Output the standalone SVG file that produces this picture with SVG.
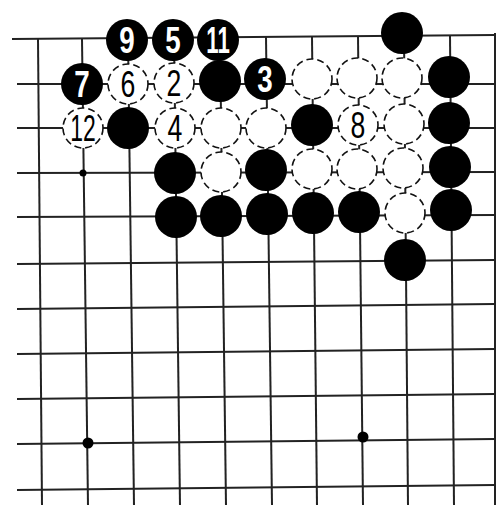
<svg xmlns="http://www.w3.org/2000/svg" width="500" height="505" viewBox="0 0 500 505">
<style>
.grid line{stroke:#222;stroke-width:2}
.edge{stroke:#111;stroke-width:3}
.b{fill:#000}
.w{fill:#fff;stroke:#111;stroke-width:1.6;stroke-dasharray:7 4}
.bt{fill:#fff;font-family:"Liberation Sans",Arial,sans-serif;font-weight:bold;font-size:37px;text-anchor:middle}
.wt{fill:#000;font-family:"Liberation Sans",Arial,sans-serif;font-size:37px;text-anchor:middle}
.hoshi{fill:#000}
</style>
<rect width="500" height="505" fill="#fff"/>
<g id="grid" class="grid">
<line class="edge" x1="12" y1="39" x2="495" y2="35"/>
<line class="edge" x1="495" y1="33" x2="495" y2="505"/>
<line x1="17" y1="84" x2="495" y2="84"/>
<line x1="17" y1="128" x2="495" y2="128"/>
<line x1="17" y1="173" x2="495" y2="172"/>
<line x1="17" y1="217" x2="495" y2="215"/>
<line x1="17" y1="264" x2="495" y2="260"/>
<line x1="17" y1="309" x2="495" y2="304"/>
<line x1="17" y1="354" x2="495" y2="349"/>
<line x1="17" y1="399" x2="495" y2="394"/>
<line x1="17" y1="444" x2="495" y2="439"/>
<line x1="17" y1="490" x2="495" y2="485"/>
<line x1="38" y1="39" x2="42" y2="505"/>
<line x1="82" y1="39" x2="88" y2="505"/>
<line x1="128" y1="38" x2="134" y2="505"/>
<line x1="174" y1="38" x2="180" y2="505"/>
<line x1="220" y1="38" x2="226" y2="505"/>
<line x1="266" y1="37" x2="272" y2="505"/>
<line x1="312" y1="37" x2="317" y2="505"/>
<line x1="358" y1="36" x2="363" y2="505"/>
<line x1="404" y1="36" x2="408" y2="505"/>
<line x1="450" y1="35" x2="454" y2="505"/>
</g>
<g id="hoshi">
<circle class="hoshi" cx="83" cy="173" r="3.5"/>
<circle class="hoshi" cx="88" cy="443" r="5.5"/>
<circle class="hoshi" cx="363" cy="437" r="5.5"/>
</g>
<g id="white-stones">
<g id="w6"><circle class="w" cx="128" cy="84" r="20"/><text class="wt" x="128" y="97" transform="translate(128 0) scale(0.72 1) translate(-128 0)">6</text></g>
<g id="w2"><circle class="w" cx="174" cy="83" r="20"/><text class="wt" x="174" y="96" transform="translate(174 0) scale(0.72 1) translate(-174 0)">2</text></g>
<g id="w-r1c6"><circle class="w" cx="312" cy="79" r="20"/></g>
<g id="w-r1c7"><circle class="w" cx="357" cy="78" r="20"/></g>
<g id="w-r1c8"><circle class="w" cx="402" cy="78" r="20"/></g>
<g id="w12"><circle class="w" cx="83" cy="128" r="20"/><text class="wt" x="83" y="141" transform="translate(83 0) scale(0.62 1) translate(-83 0)">12</text></g>
<g id="w4"><circle class="w" cx="175" cy="128" r="20"/><text class="wt" x="175" y="141" transform="translate(175 0) scale(0.72 1) translate(-175 0)">4</text></g>
<g id="w-r2c4"><circle class="w" cx="221" cy="128" r="20"/></g>
<g id="w-r2c5"><circle class="w" cx="266" cy="128" r="20"/></g>
<g id="w8"><circle class="w" cx="358" cy="125" r="20"/><text class="wt" x="358" y="138" transform="translate(358 0) scale(0.72 1) translate(-358 0)">8</text></g>
<g id="w-r2c8"><circle class="w" cx="404" cy="124" r="20"/></g>
<g id="w-r3c4"><circle class="w" cx="221" cy="172" r="20"/></g>
<g id="w-r3c6"><circle class="w" cx="312" cy="169" r="20"/></g>
<g id="w-r3c7"><circle class="w" cx="357" cy="169" r="20"/></g>
<g id="w-r3c8"><circle class="w" cx="403" cy="168" r="20"/></g>
<g id="w-r4c8"><circle class="w" cx="405" cy="213" r="20"/></g>
</g>
<g id="black-stones">
<g id="b9"><circle class="b" cx="127" cy="40" r="21"/><text class="bt" x="127" y="53" transform="translate(127 0) scale(0.75 1) translate(-127 0)">9</text></g>
<g id="b5"><circle class="b" cx="173" cy="40" r="21"/><text class="bt" x="173" y="53" transform="translate(173 0) scale(0.75 1) translate(-173 0)">5</text></g>
<g id="b11"><circle class="b" cx="218" cy="40" r="21"/><text class="bt" x="218" y="53" transform="translate(218 0) scale(0.6 1) translate(-218 0)">11</text></g>
<g id="b-r0c8"><circle class="b" cx="402" cy="33" r="21"/></g>
<g id="b7"><circle class="b" cx="82" cy="84" r="21"/><text class="bt" x="82" y="97" transform="translate(82 0) scale(0.75 1) translate(-82 0)">7</text></g>
<g id="b-r1c4"><circle class="b" cx="220" cy="81" r="21"/></g>
<g id="b3"><circle class="b" cx="265" cy="79" r="21"/><text class="bt" x="265" y="92" transform="translate(265 0) scale(0.75 1) translate(-265 0)">3</text></g>
<g id="b-r1c9"><circle class="b" cx="449" cy="77" r="21"/></g>
<g id="b-r2c2"><circle class="b" cx="128" cy="128" r="21"/></g>
<g id="b-r2c6"><circle class="b" cx="312" cy="125" r="21"/></g>
<g id="b-r2c9"><circle class="b" cx="449" cy="123" r="21"/></g>
<g id="b-r3c3"><circle class="b" cx="175" cy="173" r="21"/></g>
<g id="b-r3c5"><circle class="b" cx="266" cy="170" r="21"/></g>
<g id="b-r3c9"><circle class="b" cx="450" cy="167" r="21"/></g>
<g id="b-r4c3"><circle class="b" cx="176" cy="217" r="21"/></g>
<g id="b-r4c4"><circle class="b" cx="221" cy="216" r="21"/></g>
<g id="b-r4c5"><circle class="b" cx="267" cy="214" r="21"/></g>
<g id="b-r4c6"><circle class="b" cx="313" cy="213" r="21"/></g>
<g id="b-r4c7"><circle class="b" cx="359" cy="212" r="21"/></g>
<g id="b-r4c9"><circle class="b" cx="451" cy="210" r="21"/></g>
<g id="b-r5c8"><circle class="b" cx="405" cy="260" r="21"/></g>
</g>
</svg>
